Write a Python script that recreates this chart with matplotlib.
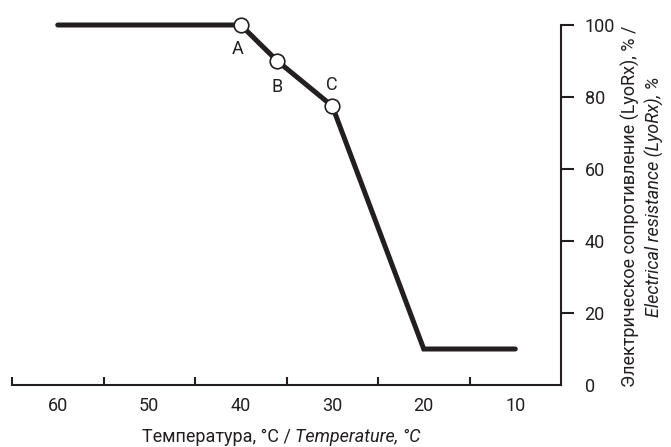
import matplotlib
matplotlib.use("Agg")
import matplotlib.pyplot as plt
from matplotlib.offsetbox import TextArea, HPacker, AnnotationBbox

plt.rcParams['font.family'] = ['Roboto', 'DejaVu Sans']

# data
temperature = [60, 40, 36, 30, 20, 10]
resistance = [100, 100, 90, 77.5, 10, 10]
point_labels = ['A', 'B', 'C']
point_temp = [40, 36, 30]
point_res = [100, 90, 77.5]
x_tick_labels = [60, 50, 40, 30, 20, 10]
y_ticks = [0, 20, 40, 60, 80, 100]

INK = '#231f20'
FS = 13
W, H = 671, 447
fig = plt.figure(figsize=(W / 100, H / 100), dpi=100)
ax = fig.add_axes([12 / W, (H - 385) / H, (561 - 12) / W, (385 - 25) / H])
ax.set_xlim(65, 5)
ax.set_ylim(0, 100)

ax.plot(temperature, resistance, color=INK, lw=3.6, solid_capstyle='round',
        solid_joinstyle='miter', clip_on=False, zorder=3)
ax.plot(point_temp, point_res, 'o', ms=10.5, mfc='white', mec=INK, mew=1.2,
        clip_on=False, zorder=4)

offsets = [(-2, -17), (0, -19), (0, 15)]
for lab, tx, ty, off in zip(point_labels, point_temp, point_res, offsets):
    ax.annotate(lab, (tx, ty), xytext=off, textcoords='offset points',
                ha='center', va='center', fontsize=FS, color=INK)

for s in ['left', 'top']:
    ax.spines[s].set_visible(False)
for s in ['bottom', 'right']:
    ax.spines[s].set_linewidth(1.5)
    ax.spines[s].set_color(INK)

# x axis: boundary ticks and centered labels
ax.set_xticks([65, 55, 45, 35, 25, 15])
ax.set_xticklabels([])
ax.set_xticks(x_tick_labels, minor=True)
ax.set_xticklabels([str(v) for v in x_tick_labels], minor=True)
ax.tick_params(axis='x', which='major', direction='in', length=5.5, width=1.5, color=INK)
ax.tick_params(axis='x', which='minor', length=0, pad=8.5, labelsize=FS, labelcolor=INK)

# y axis on the right
ax.yaxis.tick_right()
ax.set_yticks(y_ticks)
ax.set_yticklabels([str(v) for v in y_ticks])
ax.tick_params(axis='y', direction='out', length=9.5, width=1.5, color=INK,
               pad=7.5, labelsize=FS, labelcolor=INK, left=False, right=True,
               labelleft=False, labelright=True)
ax.yaxis.get_major_ticks()[0].tick2line.set_visible(False)
ax.yaxis.get_major_ticks()[0].tick1line.set_visible(False)

# x label (mixed styles)
t1 = TextArea('Температура, °C / ', textprops=dict(fontsize=FS, color=INK))
t2 = TextArea('Temperature, °C', textprops=dict(fontsize=FS, color=INK, style='italic'))
box = HPacker(children=[t1, t2], pad=0, sep=0, align='baseline')
ab = AnnotationBbox(box, (281 / W, 1 - 437 / H), xycoords='figure fraction',
                    frameon=False, box_alignment=(0.5, 0.5), pad=0)
fig.add_artist(ab)

# y label, two lines
fig.text(630 / W, 1 - 206 / H, 'Электрическое сопротивление (LyoRx), % /',
         rotation=90, ha='center', va='center', fontsize=FS, color=INK)
fig.text(654 / W, 1 - 197 / H, 'Electrical resistance (LyoRx), %',
         rotation=90, ha='center', va='center', fontsize=FS, color=INK, style='italic')

fig.savefig('out.png', dpi=100)
